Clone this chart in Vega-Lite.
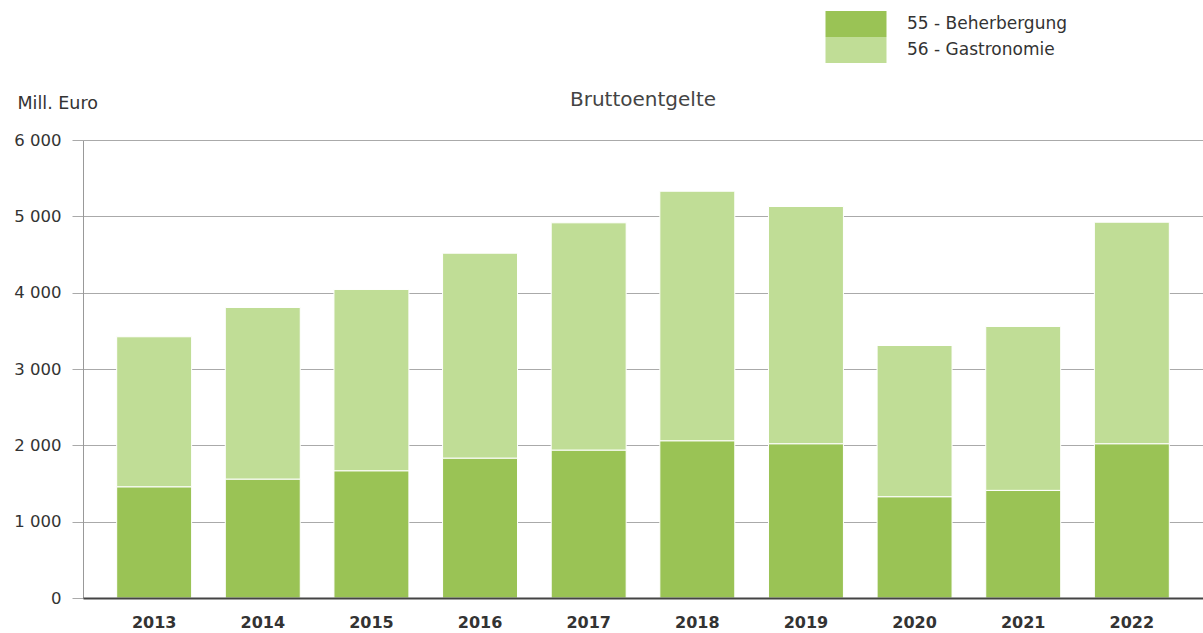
{
  "$schema": "https://vega.github.io/schema/vega-lite/v6.json",
  "autosize": "none",
  "width": 1120,
  "height": 458,
  "padding": {"left": 83, "top": 140, "right": 0, "bottom": 35},
  "background": "white",
  "title": {
    "text": "Bruttoentgelte",
    "font": "DejaVu Sans",
    "fontSize": 20,
    "fontWeight": "normal",
    "color": "#444444",
    "anchor": "middle",
    "baseline": "alphabetic",
    "offset": 0,
    "dy": 115
  },
  "data": {
    "values": [
      {"Jahr": "2013", "Bereich": "55 - Beherbergung", "Wert": 1457},
      {"Jahr": "2013", "Bereich": "56 - Gastronomie", "Wert": 1965},
      {"Jahr": "2014", "Bereich": "55 - Beherbergung", "Wert": 1558},
      {"Jahr": "2014", "Bereich": "56 - Gastronomie", "Wert": 2248},
      {"Jahr": "2015", "Bereich": "55 - Beherbergung", "Wert": 1667},
      {"Jahr": "2015", "Bereich": "56 - Gastronomie", "Wert": 2375},
      {"Jahr": "2016", "Bereich": "55 - Beherbergung", "Wert": 1833},
      {"Jahr": "2016", "Bereich": "56 - Gastronomie", "Wert": 2684},
      {"Jahr": "2017", "Bereich": "55 - Beherbergung", "Wert": 1938},
      {"Jahr": "2017", "Bereich": "56 - Gastronomie", "Wert": 2977},
      {"Jahr": "2018", "Bereich": "55 - Beherbergung", "Wert": 2060},
      {"Jahr": "2018", "Bereich": "56 - Gastronomie", "Wert": 3269},
      {"Jahr": "2019", "Bereich": "55 - Beherbergung", "Wert": 2021},
      {"Jahr": "2019", "Bereich": "56 - Gastronomie", "Wert": 3108},
      {"Jahr": "2020", "Bereich": "55 - Beherbergung", "Wert": 1327},
      {"Jahr": "2020", "Bereich": "56 - Gastronomie", "Wert": 1981},
      {"Jahr": "2021", "Bereich": "55 - Beherbergung", "Wert": 1410},
      {"Jahr": "2021", "Bereich": "56 - Gastronomie", "Wert": 2147},
      {"Jahr": "2022", "Bereich": "55 - Beherbergung", "Wert": 2021},
      {"Jahr": "2022", "Bereich": "56 - Gastronomie", "Wert": 2902}
    ]
  },
  "mark": {"type": "bar", "stroke": "white", "strokeWidth": 1},
  "encoding": {
    "x": {
      "field": "Jahr",
      "type": "ordinal",
      "scale": {"paddingInner": 0.31, "paddingOuter": 0.31},
      "axis": {
        "title": null,
        "labelAngle": 0,
        "labelFont": "DejaVu Sans",
        "labelFontSize": 16,
        "labelFontWeight": "bold",
        "labelColor": "#333333",
        "labelPadding": 16,
        "ticks": false,
        "domainColor": "#444444",
        "domainWidth": 2,
        "grid": false,
        "zindex": 1
      }
    },
    "y": {
      "field": "Wert",
      "type": "quantitative",
      "stack": "zero",
      "scale": {"domain": [0, 6000], "nice": false},
      "axis": {
        "values": [0, 1000, 2000, 3000, 4000, 5000, 6000],
        "labelExpr": "replace(format(datum.value, ','), ',', ' ')",
        "labelFont": "DejaVu Sans",
        "labelFontSize": 16.5,
        "labelColor": "#333333",
        "labelPadding": 11,
        "tickSize": 11,
        "tickColor": "#aaaaaa",
        "tickWidth": 1,
        "domainColor": "#999999",
        "domainWidth": 1,
        "gridColor": "#aaaaaa",
        "gridWidth": 1,
        "title": "Mill. Euro",
        "titleFont": "DejaVu Sans",
        "titleFontSize": 17.5,
        "titleFontWeight": "normal",
        "titleColor": "#333333",
        "titleAngle": 0,
        "titleAlign": "left",
        "titleBaseline": "alphabetic",
        "titleX": -66,
        "titleY": -32
      }
    },
    "color": {
      "field": "Bereich",
      "type": "nominal",
      "scale": {
        "domain": ["55 - Beherbergung", "56 - Gastronomie"],
        "range": ["#9ac355", "#c0dd96"]
      },
      "legend": {
        "title": null,
        "orient": "none",
        "legendX": 760,
        "legendY": -129,
        "padding": 0,
        "rowPadding": 0,
        "symbolType": "M-2.346,-1H2.346V1H-2.346Z",
        "symbolSize": 676,
        "symbolStrokeWidth": 0,
        "symbolOpacity": 1,
        "labelFont": "DejaVu Sans",
        "labelFontSize": 17,
        "labelColor": "#333333",
        "labelOffset": 38
      }
    },
    "order": {"field": "Bereich", "sort": "ascending"}
  },
  "config": {
    "view": {"stroke": null}
  }
}
